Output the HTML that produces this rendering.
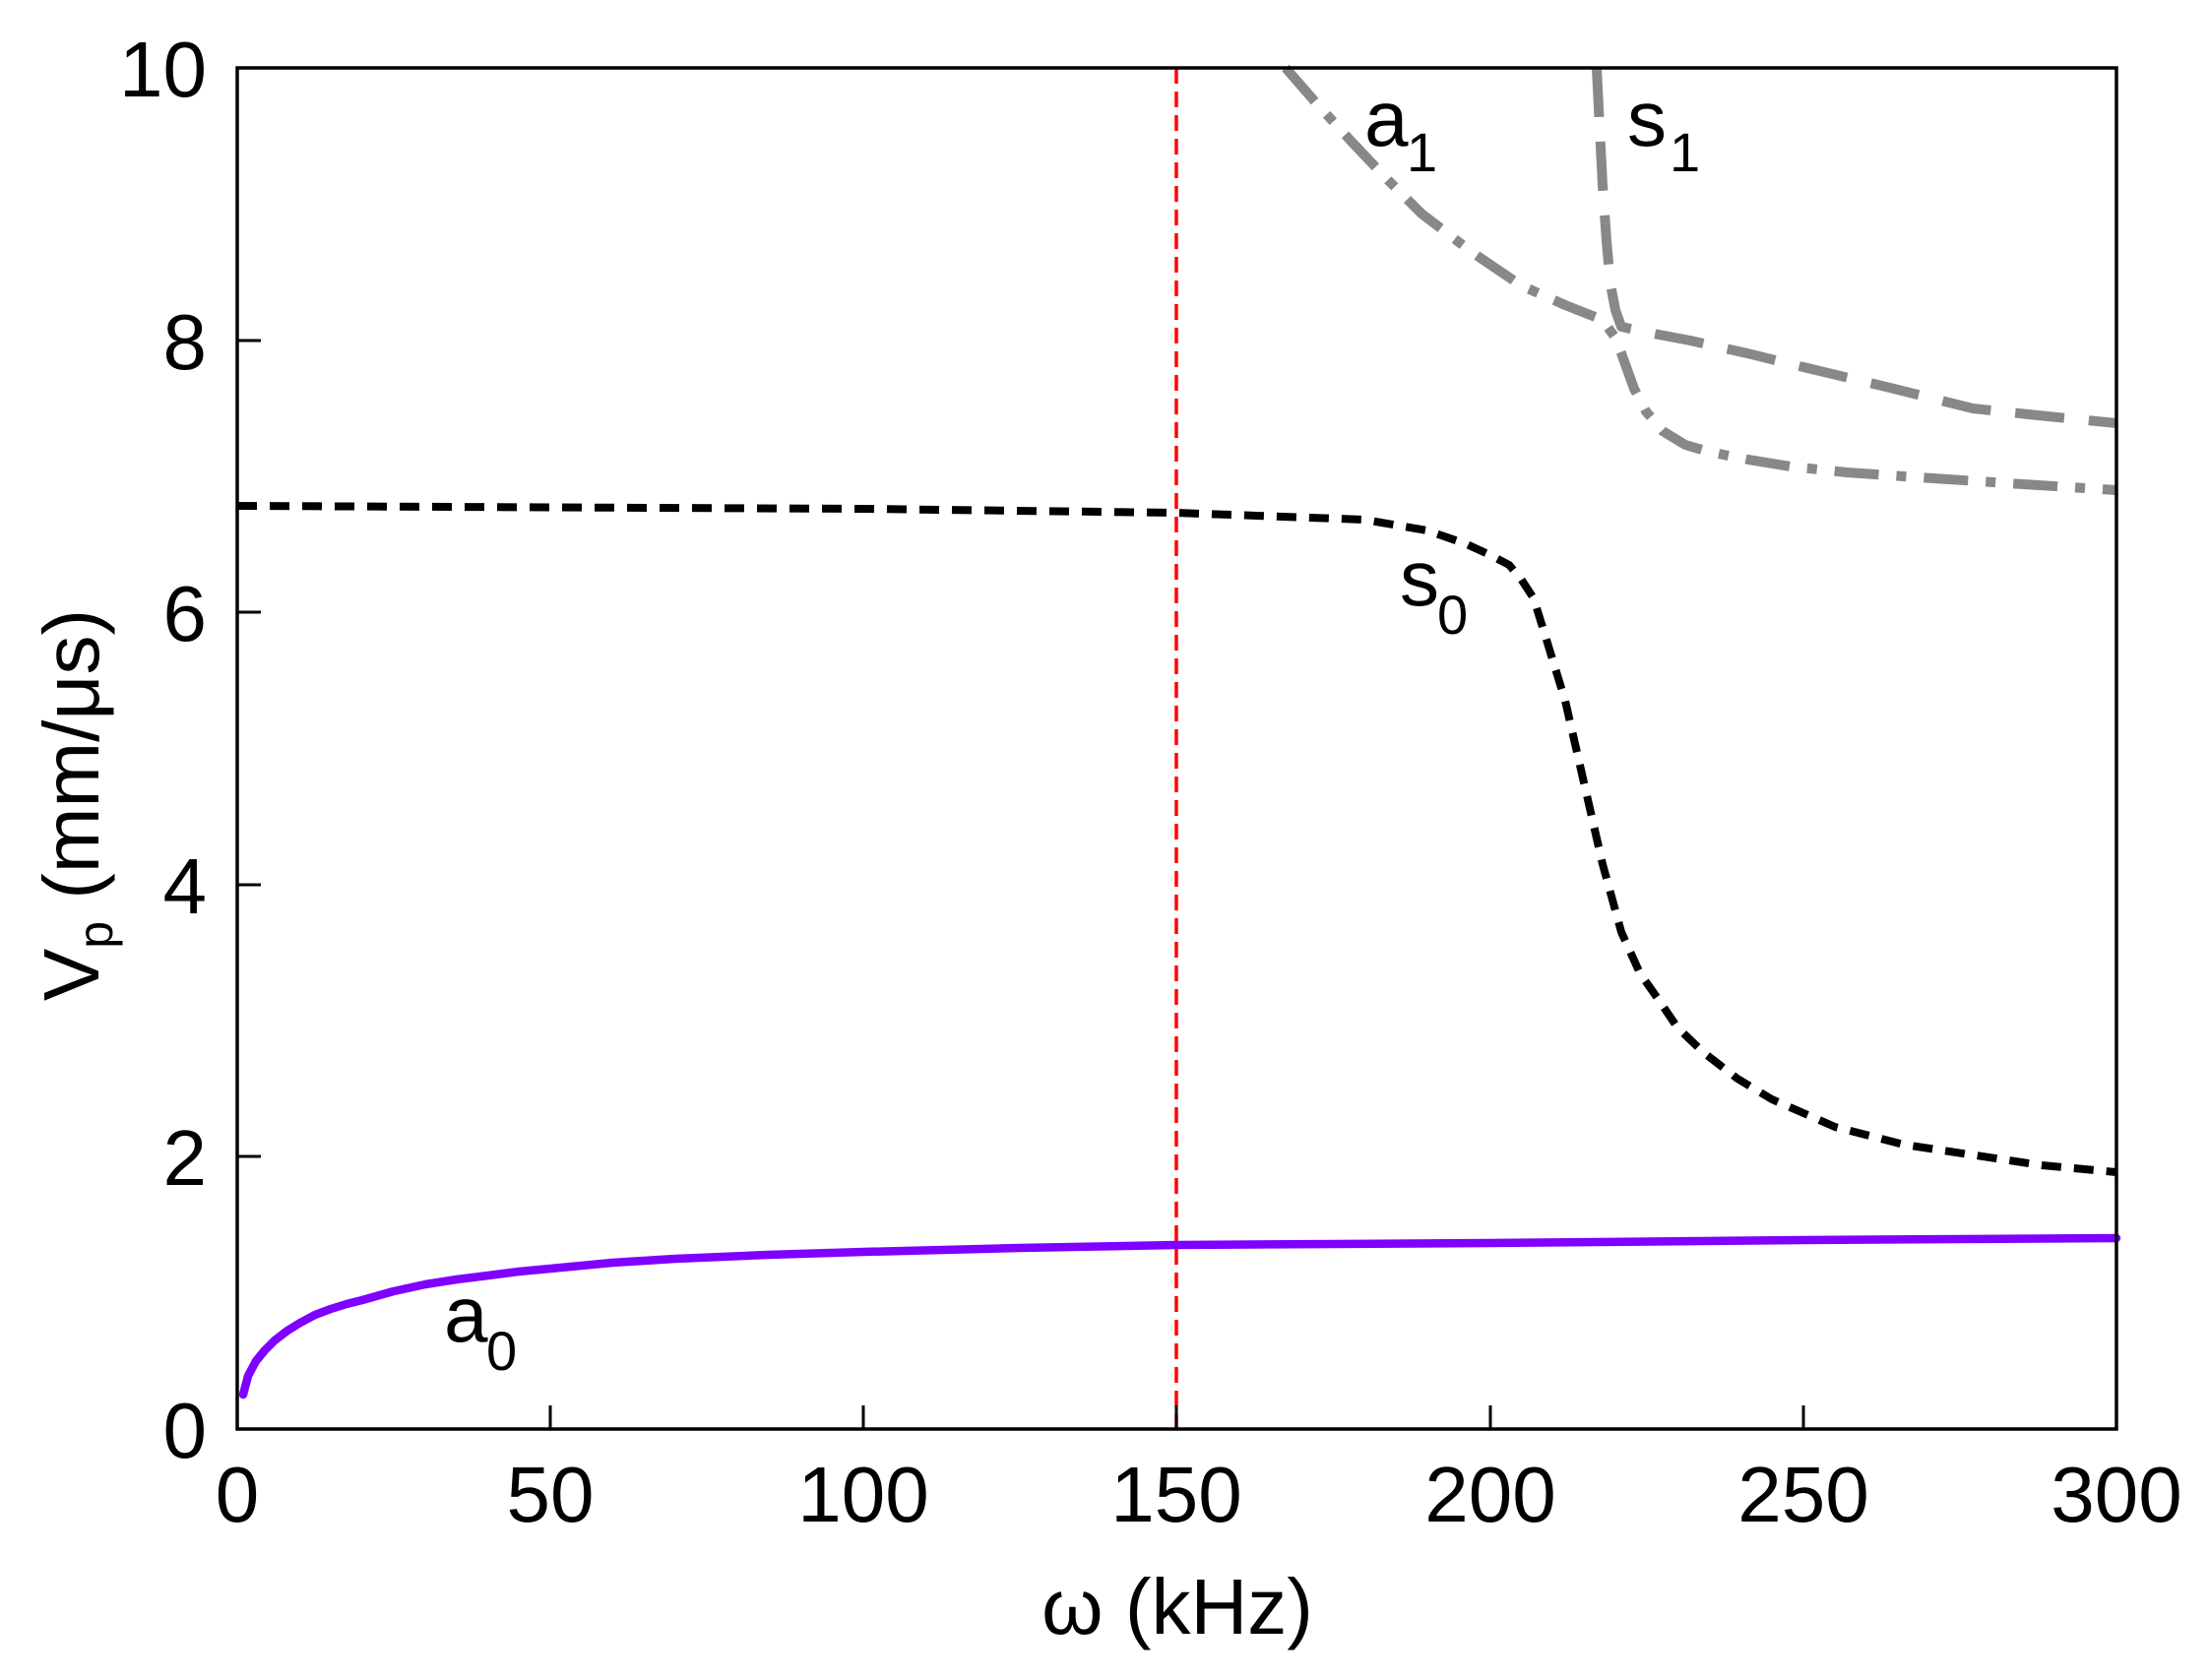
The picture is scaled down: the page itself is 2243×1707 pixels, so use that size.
<!DOCTYPE html>
<html><head><meta charset="utf-8"><style>html,body{margin:0;padding:0;background:#fff}svg{display:block}</style></head>
<body>
<svg width="2243" height="1707" viewBox="0 0 2243 1707" xmlns="http://www.w3.org/2000/svg" font-family="Liberation Sans, Arial, sans-serif">
<rect width="2243" height="1707" fill="#fff"/>
<line x1="1195" y1="69" x2="1195" y2="1452" stroke="#ff0000" stroke-width="3.5" stroke-dasharray="16,8"/>
<polyline fill="none" stroke="#8000ff" stroke-width="8.5" stroke-linejoin="round" stroke-linecap="round" points="247,1417 252,1398 260,1383 269,1372 279,1362 292,1352 305,1344 320,1336 336,1330 352,1325 368,1321 400,1312 432,1305 464,1300 496,1296 527,1292 559,1289 622,1283 686,1279 780,1275 877,1272 1035,1268 1195,1265 1514,1263 1832,1260 2150,1258"/>
<polyline fill="none" stroke="#000" stroke-width="8" stroke-dasharray="20,13" stroke-linejoin="round" points="241,514 877,517 1195,521 1386,528 1450,539 1490,553 1514,564 1533,574 1545,588 1558,608 1571,650 1590,712 1609,795 1628,878 1647,947 1666,989 1685,1016 1704,1044 1730,1069 1765,1096 1800,1117 1864,1145 1934,1163 2074,1184 2150,1191"/>
<polyline fill="none" stroke="#888" stroke-width="10" stroke-linejoin="round" stroke-dasharray="45,18,10,18" points="1306,69 1340,108 1374,145 1410,183 1444,217 1495,256 1545,290 1590,310 1628,325 1640,342 1647,359 1660,395 1672,418 1689,438 1712,452 1736,459 1776,467 1819,474 1876,480 1934,484 2040,491 2150,498"/>
<polyline fill="none" stroke="#888" stroke-width="10" stroke-linejoin="round" stroke-dasharray="50,25" points="1622,69 1625,130 1628,188 1632,245 1636,289 1641,315 1647,332 1680,339 1717,346 1775,359 1832,373 1920,394 2004,415 2080,423 2150,430"/>
<rect x="241" y="69" width="1909" height="1383" fill="none" stroke="#000" stroke-width="3.5"/>
<g stroke="#000" stroke-width="3">
<line x1="559" y1="1452" x2="559" y2="1428"/><line x1="877" y1="1452" x2="877" y2="1428"/><line x1="1195" y1="1452" x2="1195" y2="1428"/><line x1="1514" y1="1452" x2="1514" y2="1428"/><line x1="1832" y1="1452" x2="1832" y2="1428"/>
<line x1="241" y1="1175" x2="265" y2="1175"/><line x1="241" y1="899" x2="265" y2="899"/><line x1="241" y1="622" x2="265" y2="622"/><line x1="241" y1="346" x2="265" y2="346"/>
</g>
<g font-size="80" fill="#000" text-anchor="middle">
<text x="241" y="1546">0</text><text x="559" y="1546">50</text><text x="877" y="1546">100</text><text x="1195" y="1546">150</text><text x="1514" y="1546">200</text><text x="1832" y="1546">250</text><text x="2150" y="1546">300</text>
</g>
<g font-size="80" fill="#000" text-anchor="end">
<text x="210" y="1481">0</text><text x="210" y="1204">2</text><text x="210" y="928">4</text><text x="210" y="651">6</text><text x="210" y="375">8</text><text x="210" y="98">10</text>
</g>
<text x="1196" y="1660" font-size="80" text-anchor="middle">ω (kHz)</text>
<text transform="translate(100,818) rotate(-90)" font-size="80" text-anchor="middle">V<tspan font-size="50" dy="14">p</tspan><tspan dy="-14"> (mm/μs)</tspan></text>
<g fill="#000">
<text x="1386" y="148" font-size="80">a</text><text x="1429" y="174" font-size="56">1</text>
<text x="1653" y="148" font-size="80">s</text><text x="1696" y="174" font-size="56">1</text>
<text x="1422" y="615" font-size="80">s</text><text x="1460" y="644" font-size="56">0</text>
<text x="451" y="1363" font-size="80">a</text><text x="494" y="1392" font-size="56">0</text>
</g>
</svg>
</body></html>
